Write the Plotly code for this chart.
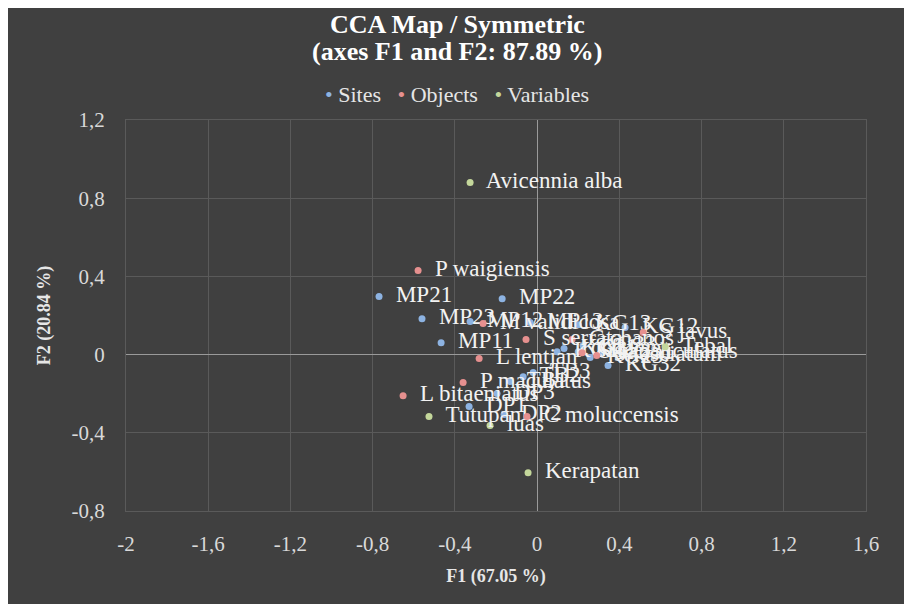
import plotly.graph_objects as go

# ---------------- data ----------------
site_names = ["MP21", "MP22", "MP23", "MP11", "MP12", "MP13", "KG13", "KG12",
              "KG11", "KG21", "KG22", "KG23", "KG31", "KG32", "KG33",
              "TB1", "TB2", "TB3", "DP1", "DP2", "DP3"]
site_f1 = [-0.769, -0.170, -0.560, -0.467, -0.326, -0.034, 0.200, 0.428,
           0.097, 0.131, 0.200, 0.258, 0.307, 0.345, 0.224,
           -0.131, -0.068, -0.019, -0.331, -0.161, -0.195]
site_f2 = [0.297, 0.286, 0.184, 0.061, 0.169, 0.164, 0.153, 0.138,
           0.015, 0.031, 0.015, -0.015, 0.005, -0.056, 0.046,
           -0.138, -0.113, -0.092, -0.266, -0.307, -0.199]

object_names = ["P waigiensis", "M validicosa", "S serrata", "C chanos", "S javus",
                "L lentjan", "P maculatus", "L bitaeniatus", "C moluccensis",
                "S canaliculatus", "S fasciatum"]
object_f1 = [-0.579, -0.263, -0.054, 0.170, 0.516,
             -0.282, -0.360, -0.652, -0.049,
             0.219, 0.290]
object_f2 = [0.430, 0.159, 0.077, 0.077, 0.113,
             -0.020, -0.143, -0.210, -0.317,
             0.010, -0.005]

variable_names = ["Avicennia alba", "Kerapatan", "Tutupan", "luas", "Tebal"]
variable_f1 = [-0.326, -0.044, -0.526, -0.229, 0.623]
variable_f2 = [0.880, -0.604, -0.317, -0.363, 0.040]

x_tickvals = [-2, -1.6, -1.2, -0.8, -0.4, 0, 0.4, 0.8, 1.2, 1.6]
x_ticktext = ["-2", "-1,6", "-1,2", "-0,8", "-0,4", "0", "0,4", "0,8", "1,2", "1,6"]
y_tickvals = [-0.8, -0.4, 0, 0.4, 0.8, 1.2]
y_ticktext = ["-0,8", "-0,4", "0", "0,4", "0,8", "1,2"]

group_labels = ["Sites", "Objects", "Variables"]
group_colors = ["#8db3e2", "#e6908f", "#c4d79b"]

title_lines = ["CCA Map / Symmetric", "(axes F1 and F2: 87.89 %)"]

# ---------------- style ----------------
BG = "#404040"
GRID = "#5a5a5a"
SERIF = "Liberation Serif, Times New Roman, Tinos, serif"
W, H = 912, 604
ML, MR, MT, MB = 118, 54, 112, 101
PW, PH = W - ML - MR, H - MT - MB

fig = go.Figure()

def add_group(names, xs, ys, color, label):
    fig.add_trace(go.Scatter(
        x=xs, y=ys, mode="markers+text", name=label,
        text=["  " + n for n in names], textposition="middle right",
        textfont=dict(family=SERIF, size=23, color="#f2f2f2"),
        marker=dict(size=7, color=color),
        cliponaxis=False, showlegend=False,
    ))

add_group(site_names, site_f1, site_f2, group_colors[0], group_labels[0])
add_group(object_names, object_f1, object_f2, group_colors[1], group_labels[1])
add_group(variable_names, variable_f1, variable_f2, group_colors[2], group_labels[2])

py2y = lambda py: (H - MB - py) / PH   # figure-pixel (from top) -> paper y
px2x = lambda px: (px - ML) / PW

# title (two lines, tight line spacing)
for line, ypix in zip(title_lines, [17, 44]):
    fig.add_annotation(
        xref="paper", yref="paper", x=px2x(W / 2 - 7), y=py2y(ypix),
        xanchor="center", yanchor="middle",
        text=f"<b>{line}</b>", showarrow=False,
        font=dict(family=SERIF, size=26, color="#ffffff"),
    )

# legend (compact, like the reference)
legend_text = "&nbsp;&nbsp;&nbsp;".join(
    f"<span style='color:{c}'>•</span> {t}" for t, c in zip(group_labels, group_colors)
)
fig.add_annotation(
    xref="paper", yref="paper", x=px2x(W / 2 - 7), y=py2y(87), xanchor="center", yanchor="middle",
    text=legend_text, showarrow=False,
    font=dict(family=SERIF, size=22, color="#e6e6e6"),
)

fig.update_layout(
    width=W, height=H,
    margin=dict(l=ML, r=MR, t=MT, b=MB, autoexpand=False),
    paper_bgcolor=BG,
    plot_bgcolor=BG,
    showlegend=False,
)

fig.update_xaxes(
    range=[-2, 1.6], tickvals=x_tickvals, ticktext=x_ticktext,
    showgrid=True, gridcolor=GRID, gridwidth=1,
    zeroline=True, zerolinecolor="#9a9a9a", zerolinewidth=1,
    showline=True, linecolor=GRID, mirror=True,
    ticks="outside", ticklen=14, tickcolor="rgba(0,0,0,0)",
    tickfont=dict(family=SERIF, size=21, color="#d9d9d9"),
    title=dict(text="<b>F1 (67.05 %)</b>", standoff=14,
               font=dict(family=SERIF, size=18, color="#e6e6e6")),
    automargin=False,
)
fig.update_yaxes(
    range=[-0.8, 1.2], tickvals=y_tickvals, ticktext=y_ticktext,
    showgrid=True, gridcolor=GRID, gridwidth=1,
    zeroline=True, zerolinecolor="#9a9a9a", zerolinewidth=1,
    showline=True, linecolor=GRID, mirror=True,
    ticks="outside", ticklen=16, tickcolor="rgba(0,0,0,0)",
    tickfont=dict(family=SERIF, size=21, color="#d9d9d9"),
    title=dict(text="<b>F2 (20.84 %)</b>", standoff=16,
               font=dict(family=SERIF, size=18, color="#e6e6e6")),
    automargin=False,
)

fig.write_html("out.html")
